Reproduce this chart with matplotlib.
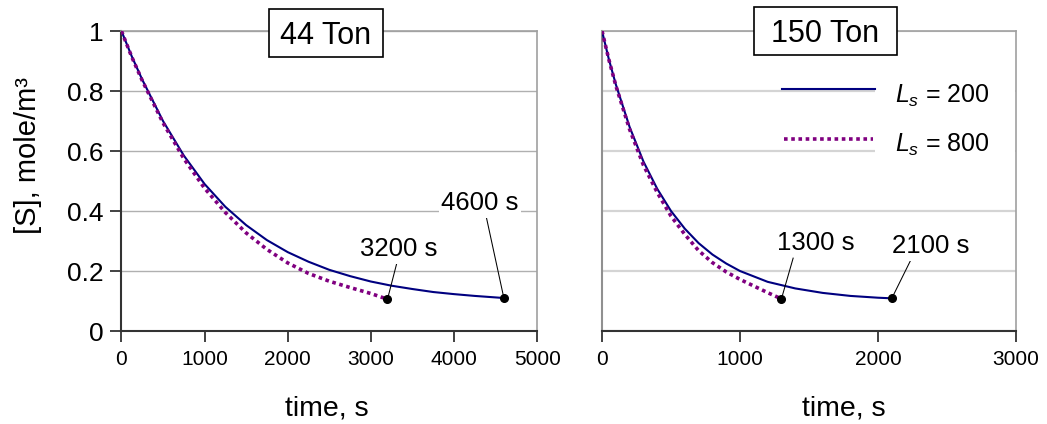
import matplotlib
matplotlib.use("Agg")
import matplotlib.pyplot as plt
from matplotlib.lines import Line2D
from matplotlib.patches import Rectangle

plt.rcParams['font.family'] = ['Liberation Sans', 'DejaVu Sans']
plt.rcParams['mathtext.fontset'] = 'custom'
plt.rcParams['mathtext.rm'] = 'Liberation Sans'
plt.rcParams['mathtext.it'] = 'Liberation Sans:italic'

# ---- substrate concentration [S] vs time ----
# 44 Ton reactor
t44_L200 = [0, 125, 250, 500, 750, 1000, 1250, 1500, 1750, 2000, 2250, 2500,
            2750, 3000, 3250, 3500, 3750, 4000, 4250, 4600]
s44_L200 = [1.0, 0.915, 0.838, 0.700, 0.585, 0.490, 0.414, 0.353, 0.303, 0.263,
            0.231, 0.204, 0.183, 0.165, 0.151, 0.140, 0.130, 0.123, 0.117, 0.110]
t44_L800 = [0, 125, 250, 500, 750, 1000, 1250, 1500, 1750, 2000, 2250, 2500,
            2750, 3000, 3200]
s44_L800 = [1.0, 0.913, 0.835, 0.694, 0.575, 0.476, 0.395, 0.327, 0.272, 0.227,
            0.192, 0.166, 0.145, 0.125, 0.106]

# 150 Ton reactor
t150_L200 = [0, 50, 100, 200, 300, 400, 500, 600, 700, 800, 900, 1000, 1200,
             1400, 1600, 1800, 2000, 2100]
s150_L200 = [1.0, 0.905, 0.822, 0.680, 0.565, 0.474, 0.400, 0.341, 0.293, 0.255,
             0.225, 0.200, 0.164, 0.142, 0.127, 0.117, 0.111, 0.109]
t150_L800 = [0, 50, 100, 200, 300, 400, 500, 600, 700, 800, 900, 1000, 1100,
             1200, 1300]
s150_L800 = [1.0, 0.904, 0.818, 0.672, 0.553, 0.462, 0.383, 0.322, 0.268, 0.228,
             0.197, 0.172, 0.150, 0.128, 0.107]

panel_titles = ["44 Ton", "150 Ton"]
series_labels = [r"$L_s$ = 200", r"$L_s$ = 800"]
y_ticks = [0, 0.2, 0.4, 0.6, 0.8, 1.0]
y_tick_labels = ["0", "0.2", "0.4", "0.6", "0.8", "1"]
x_ticks_44 = [0, 1000, 2000, 3000, 4000, 5000]
x_ticks_150 = [0, 1000, 2000, 3000]

NAVY = "#000080"
PURPLE = "#800080"
DARK = "#333333"

fig = plt.figure(figsize=(10.47, 4.24), dpi=100)
ax1 = fig.add_axes([0.116, 0.2193, 0.397, 0.7075])
ax2 = fig.add_axes([0.575, 0.2193, 0.3954, 0.7075])


def style(ax, xmax, xticks, grid_color, grid_lw, left_color, show_y):
    ax.set_xlim(0, xmax)
    ax.set_ylim(0, 1)
    ax.set_xticks(xticks)
    ax.set_xticklabels([str(v) for v in xticks], fontsize=15)
    ax.set_yticks(y_ticks)
    ax.set_axisbelow(True)
    ax.yaxis.grid(True, color=grid_color, lw=grid_lw)
    ax.xaxis.grid(False)
    for side in ("top", "right"):
        ax.spines[side].set_color("#a0a0a0")
        ax.spines[side].set_linewidth(1.2)
    ax.spines["bottom"].set_color(DARK)
    ax.spines["bottom"].set_linewidth(1.5)
    ax.spines["left"].set_color(left_color)
    ax.spines["left"].set_linewidth(1.5)
    ax.tick_params(axis="x", direction="out", length=8, width=1.3,
                   color=DARK, pad=6, labelsize=15)
    if show_y:
        ax.set_yticklabels(y_tick_labels, fontsize=19)
        ax.tick_params(axis="y", direction="out", length=8, width=1.3,
                       color=DARK, pad=5, labelsize=19)
    else:
        ax.tick_params(axis="y", length=0, labelleft=False)
    ax.set_xlabel("time, s", fontsize=20.5, va="center")


style(ax1, 5000, x_ticks_44, "#b0b0b0", 1.0, DARK, True)
style(ax2, 3000, x_ticks_150, "#d4d4d4", 1.6, "#909090", False)

ax1.set_ylabel("[S], mole/m³", fontsize=21, va="center")
ax1.yaxis.set_label_coords(-0.225, 0.585)
ax1.xaxis.set_label_coords(0.495, -0.257)
ax2.xaxis.set_label_coords(0.583, -0.257)

curves = [
    (ax1, t44_L200, s44_L200, t44_L800, s44_L800),
    (ax2, t150_L200, s150_L200, t150_L800, s150_L800),
]
for ax, ta, sa, tb, sb in curves:
    ax.plot(ta, sa, color=NAVY, lw=1.5, zorder=4)
    ax.plot(tb, sb, color=PURPLE, lw=2.6, linestyle=(0, (1, 1)),
            dash_capstyle="butt", zorder=5)

# end-point annotations: (text x, text baseline y, leader top x, leader top y)
end_notes = [
    (ax1, t44_L800, s44_L800, "3200 s", 3339, 0.250, 3324, 0.239),
    (ax1, t44_L200, s44_L200, "4600 s", 4314, 0.403, 4374, 0.399),
    (ax2, t150_L800, s150_L800, "1300 s", 1549, 0.271, 1385, 0.243),
    (ax2, t150_L200, s150_L200, "2100 s", 2382, 0.260, 2241, 0.240),
]
for ax, tt, ss, label, tx, ty, lx, ly in end_notes:
    ax.plot([tt[-1], lx], [ss[-1], ly], color="black", lw=0.75, zorder=6)
    ax.plot(tt[-1], ss[-1], "o", color="black", ms=5.5, zorder=7)
    ax.text(tx, ty, label, ha="center", va="baseline", fontsize=18.5,
            bbox=dict(boxstyle="square,pad=0.1", fc="white", ec="none"),
            zorder=6)

# panel titles in framed boxes: (box x0, box x1, box y0, box y1, baseline y)
title_boxes = [
    (ax1, panel_titles[0], 0.355, 0.629, 0.913, 1.073, 0.957),
    (ax2, panel_titles[1], 0.367, 0.7126, 0.920, 1.080, 0.964),
]
for ax, title, x0, x1, y0, y1, yb in title_boxes:
    ax.add_patch(Rectangle((x0, y0), x1 - x0, y1 - y0, transform=ax.transAxes,
                           fc="white", ec="black", lw=1.2, zorder=9,
                           clip_on=False))
    ax.text((x0 + x1) / 2, yb, title, transform=ax.transAxes, ha="center",
            va="baseline", fontsize=22, zorder=10, clip_on=False)

# legend in the 150 Ton panel
ax2.add_patch(Rectangle((0.659, 0.57), 0.339, 0.273, transform=ax2.transAxes,
                        fc="white", ec="none", zorder=1))
ax2.add_line(Line2D([0.435, 0.659], [0.806, 0.806], transform=ax2.transAxes,
                    color=NAVY, lw=1.5, zorder=4))
ax2.add_line(Line2D([0.440, 0.655], [0.639, 0.639], transform=ax2.transAxes,
                    color=PURPLE, lw=2.6, linestyle=(0, (1, 1)),
                    dash_capstyle="butt", zorder=4))
ax2.text(0.708, 0.761, series_labels[0], transform=ax2.transAxes,
         va="baseline", ha="left", fontsize=18, zorder=5)
ax2.text(0.708, 0.598, series_labels[1], transform=ax2.transAxes,
         va="baseline", ha="left", fontsize=18, zorder=5)

fig.savefig("out.png", dpi=100)
